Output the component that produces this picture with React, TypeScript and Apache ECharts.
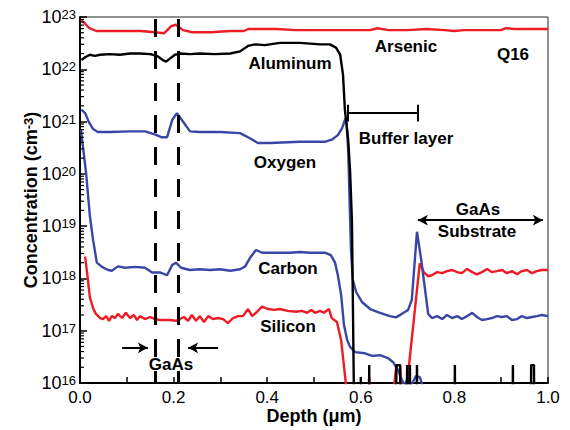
import React, { useEffect, useRef } from "react";
import * as echarts from "echarts";

// ---------- data (depth in µm, concentration in cm^-3) ----------
const arsenicDepth = [0.003, 0.01, 0.02, 0.035, 0.06, 0.1, 0.13, 0.16, 0.18, 0.195, 0.205, 0.22, 0.24, 0.28, 0.32, 0.35, 0.36, 0.38, 0.42, 0.46, 0.5, 0.54, 0.58, 0.62, 0.635, 0.66, 0.7, 0.74, 0.78, 0.8, 0.82, 0.86, 0.9, 0.91, 0.93, 0.96, 1.0];
const arsenicConc = [8.7e22, 7.6e22, 6.1e22, 5.4e22, 5.4e22, 5.4e22, 5.4e22, 5.1e22, 4.9e22, 6.7e22, 7.1e22, 5.6e22, 5.1e22, 5.1e22, 5.4e22, 5.4e22, 5.9e22, 5.9e22, 5.9e22, 5.6e22, 5.6e22, 5.6e22, 5.6e22, 5.6e22, 6.1e22, 5.6e22, 5.6e22, 5.9e22, 5.6e22, 5.4e22, 5.6e22, 5.6e22, 5.6e22, 6.1e22, 5.9e22, 5.9e22, 5.9e22];

const aluminumDepth = [0.003, 0.011, 0.021, 0.032, 0.043, 0.064, 0.085, 0.107, 0.128, 0.15, 0.165, 0.177, 0.184, 0.192, 0.203, 0.214, 0.235, 0.256, 0.288, 0.321, 0.342, 0.359, 0.374, 0.395, 0.427, 0.47, 0.513, 0.534, 0.547, 0.556, 0.562, 0.566, 0.573, 0.577, 0.581, 0.583, 0.585, 0.587,
  0.5985, 0.6, 0.6015, 0.6165, 0.618, 0.6195, 0.6745, 0.676, 0.684, 0.6855, 0.6975, 0.699, 0.7005, 0.7035, 0.705, 0.7065, 0.7185, 0.72, 0.7215, 0.7995, 0.801, 0.8025, 0.9235, 0.925, 0.9265, 0.9625, 0.964, 0.97, 0.9715, 1.0];
const aluminumConc = [1.5e22, 1.7e22, 1.9e22, 1.8e22, 1.9e22, 1.95e22, 1.9e22, 2.0e22, 2.0e22, 1.95e22, 1.8e22, 1.5e22, 1.4e22, 1.6e22, 1.9e22, 2.0e22, 1.95e22, 2.0e22, 1.95e22, 2.0e22, 2.2e22, 2.8e22, 3.0e22, 2.9e22, 3.2e22, 3.2e22, 3.0e22, 3.0e22, 2.6e22, 1.9e22, 7.8e21, 1.7e21, 4.5e20, 1.2e20, 1.3e19, 3.9e17, 1e16, 1e14,
  1e14, 1.3e16, 1e14, 1e14, 2.2e16, 1e14, 1e14, 2.2e16, 2.2e16, 1e14, 1e14, 2.2e16, 1e14, 1e14, 2.2e16, 1e14, 1e14, 2.2e16, 1e14, 1e14, 2.2e16, 1e14, 1e14, 2.2e16, 1e14, 1e14, 2.2e16, 2.2e16, 1e14, 1e14];

const oxygenDepth = [0.003, 0.011, 0.019, 0.028, 0.038, 0.064, 0.107, 0.139, 0.16, 0.175, 0.186, 0.197, 0.207, 0.22, 0.235, 0.256, 0.299, 0.342, 0.363, 0.38, 0.406, 0.47, 0.523, 0.538, 0.551, 0.56, 0.566, 0.569, 0.573, 0.576, 0.579, 0.583, 0.59, 0.603, 0.62, 0.641, 0.662, 0.675, 0.688, 0.701, 0.709, 0.72, 0.729, 0.744, 0.752, 0.763, 0.774, 0.784, 0.795, 0.806, 0.816, 0.827, 0.838, 0.848, 0.859, 0.87, 0.88, 0.891, 0.902, 0.912, 0.923, 0.934, 0.944, 0.955, 0.966, 0.976, 0.987, 1.0];
const oxygenConc = [1.7e21, 1.45e21, 9.8e20, 7.2e20, 6.3e20, 6.3e20, 6.5e20, 6.5e20, 5.7e20, 5.0e20, 5.0e20, 1.07e21, 1.45e21, 1.0e21, 6.5e20, 6.3e20, 6.3e20, 6.0e20, 4.8e20, 3.9e20, 3.9e20, 4.1e20, 4.1e20, 4.5e20, 5.5e20, 7.5e20, 1.07e21, 1.2e21, 2.9e20, 3.2e19, 3.5e18, 9.3e17, 5.5e17, 3.5e17, 2.6e17, 2.2e17, 1.9e17, 1.8e17, 2.1e17, 2.5e17, 3.9e17, 7.8e18, 2.3e18, 2.1e17, 1.75e17, 1.9e17, 1.67e17, 2.0e17, 1.75e17, 1.9e17, 1.67e17, 1.9e17, 2.2e17, 1.83e17, 1.6e17, 1.67e17, 1.75e17, 1.9e17, 1.83e17, 1.9e17, 1.6e17, 1.67e17, 1.9e17, 1.75e17, 1.83e17, 1.9e17, 2.0e17, 1.9e17];

const carbonDepth = [0.002, 0.013, 0.021, 0.028, 0.036, 0.047, 0.06, 0.068, 0.081, 0.096, 0.118, 0.139, 0.154, 0.171, 0.186, 0.197, 0.205, 0.216, 0.235, 0.256, 0.278, 0.299, 0.321, 0.342, 0.353, 0.363, 0.376, 0.389, 0.406, 0.449, 0.47, 0.491, 0.523, 0.536, 0.545, 0.551, 0.558, 0.564, 0.571, 0.577, 0.588, 0.609, 0.624, 0.641, 0.658, 0.669, 0.679, 0.688, 0.694, 0.701, 0.707, 0.718, 0.726, 0.735, 0.745];
const carbonConc = [6.9e20, 1.05e20, 1.6e19, 5.4e18, 2.0e18, 1.66e18, 1.45e18, 1.4e18, 1.7e18, 1.6e18, 1.66e18, 1.6e18, 1.3e18, 1.3e18, 1.15e18, 1.8e18, 2.0e18, 1.6e18, 1.45e18, 1.5e18, 1.45e18, 1.5e18, 1.4e18, 1.5e18, 1.7e18, 2.45e18, 3.5e18, 3.1e18, 3.1e18, 3.1e18, 3.2e18, 3.1e18, 3.1e18, 2.8e18, 2.0e18, 1.15e18, 4.8e17, 1.3e17, 6.6e16, 4.9e16, 3.9e16, 3.7e16, 3.3e16, 3.4e16, 3.0e16, 2.5e16, 1.8e16, 1.14e16, 8.8e15, 1.36e16, 8.8e15, 1.36e16, 1.3e16, 7.4e15, 1e15];

const siliconDepth = [0.011, 0.017, 0.021, 0.028, 0.034, 0.043, 0.049, 0.056, 0.062, 0.068, 0.075, 0.081, 0.09, 0.098, 0.107, 0.115, 0.122, 0.128, 0.139, 0.15, 0.16, 0.171, 0.192, 0.205, 0.214, 0.222, 0.231, 0.239, 0.248, 0.256, 0.265, 0.274, 0.284, 0.295, 0.306, 0.316, 0.327, 0.338, 0.348, 0.359, 0.368, 0.378, 0.389, 0.402, 0.415, 0.427, 0.444, 0.462, 0.474, 0.485, 0.494, 0.502, 0.513, 0.521, 0.532, 0.538, 0.549, 0.558, 0.568, 0.572,
  0.612, 0.618, 0.622, 0.66, 0.676, 0.684, 0.69, 0.699, 0.726, 0.735, 0.744, 0.752, 0.763, 0.774, 0.784, 0.795, 0.806, 0.816, 0.827, 0.838, 0.848, 0.859, 0.87, 0.88, 0.891, 0.902, 0.912, 0.923, 0.934, 0.944, 0.955, 0.966, 0.976, 0.987, 1.0];
const siliconConc = [2.6e18, 9.3e17, 4.4e17, 2.7e17, 2.1e17, 1.74e17, 1.67e17, 1.9e17, 1.55e17, 1.9e17, 1.75e17, 2.1e17, 1.75e17, 2.2e17, 1.75e17, 2.0e17, 1.6e17, 1.9e17, 1.67e17, 1.83e17, 1.67e17, 1.6e17, 1.6e17, 1.55e17, 1.67e17, 1.83e17, 1.55e17, 2.0e17, 1.55e17, 1.9e17, 1.47e17, 1.9e17, 1.67e17, 1.75e17, 1.67e17, 1.4e17, 1.75e17, 1.9e17, 1.9e17, 2.6e17, 1.9e17, 2.3e17, 2.9e17, 2.6e17, 2.5e17, 2.6e17, 2.4e17, 2.3e17, 2.4e17, 2.2e17, 2.5e17, 2.2e17, 2.4e17, 2.2e17, 2.6e17, 1.74e17, 1.47e17, 6.6e16, 1e16, 1e14,
  1e15, 1.3e16, 1e15, 1e15, 2.2e16, 2.2e16, 1e15, 1e16, 1.95e18, 1.3e18, 1.1e18, 1.15e18, 1.32e18, 1.26e18, 1.38e18, 1.45e18, 1.32e18, 1.26e18, 1.52e18, 1.32e18, 1.2e18, 1.32e18, 1.52e18, 1.32e18, 1.38e18, 1.45e18, 1.26e18, 1.38e18, 1.2e18, 1.38e18, 1.45e18, 1.26e18, 1.38e18, 1.45e18, 1.45e18];

// annotation anchors (data space)
const gaasLayerBounds = [0.164, 0.214];
const gaasArrowLeft = [0.09, 0.145];
const gaasArrowRight = [0.295, 0.231];
const gaasArrowLevel = 4.7e16;
const bufferBounds = [0.573, 0.722];
const bufferLevel = 1.5e21;
const bufferCap = [2.1e21, 1.0e21];
const substrateBounds = [0.722, 0.989];
const substrateLevel = 1.3e19;
const minorTickMantissas = [2, 3, 4, 5, 6, 7, 8, 9];
const decadeExponents = [16, 17, 18, 19, 20, 21, 22];

const FONT = 'Arial, "Liberation Sans", Helvetica, sans-serif';
const RED = "#ed1c24";
const BLUE = "#3a46a6";

export default function App() {
  const ref = useRef<HTMLDivElement>(null);
  useEffect(() => {
    const chart = echarts.init(ref.current!, null, { renderer: "svg" });
    const zip = (xs: number[], ys: number[]) => xs.map((x, i) => [x, ys[i]]);

    const lineSeries = (name: string, xs: number[], ys: number[], color: string, z: number, extra: any = {}) => ({
      type: "line", name, data: zip(xs, ys), symbol: "none", showSymbol: false, clip: true, z, silent: true,
      lineStyle: { color, width: 2.4 }, itemStyle: { color }, ...extra,
    });

    const dashStyle = { color: "#000", width: 3, type: [18, 14], dashOffset: 6 };
    const labelText = (text: string, x: number, y: number) => ({
      type: "text", x, y, z: 100, silent: true,
      style: { text, fill: "#000", font: `bold 17px ${FONT}`, align: "center", verticalAlign: "middle", textAlign: "center", textVerticalAlign: "middle" },
    });

    const labels = [
      labelText("Arsenic", 406, 46),
      labelText("Q16", 513, 54),
      labelText("Aluminum", 290, 63),
      labelText("Buffer layer", 406, 138),
      labelText("Oxygen", 285, 162),
      labelText("GaAs", 478, 209),
      labelText("Substrate", 477, 231),
      labelText("Carbon", 288, 268),
      labelText("Silicon", 288, 326),
      labelText("GaAs", 171, 364),
    ];

    const option: any = {
      animation: false,
      backgroundColor: "#fff",
      grid: { left: 80, right: 22, top: 17, bottom: 47, show: true, borderColor: "#222", borderWidth: 1, backgroundColor: "transparent", containLabel: false, outerBoundsMode: "none" },
      xAxis: {
        type: "value", min: 0, max: 1, interval: 0.2,
        name: "Depth (μm)", nameLocation: "middle", nameGap: 24, nameMoveOverlap: false,
        nameTextStyle: { fontFamily: FONT, fontSize: 18, fontWeight: "bold", color: "#000" },
        axisLine: { show: true, onZero: false, lineStyle: { color: "#000", width: 2 } },
        axisTick: { show: true, inside: true, length: 6, lineStyle: { color: "#000", width: 1.5 } },
        minorTick: { show: true, splitNumber: 2, length: 6, lineStyle: { color: "#000", width: 1.5 } },
        axisLabel: { formatter: (v: number) => v.toFixed(1), fontFamily: FONT, fontSize: 17, color: "#000", margin: 6 },
        splitLine: { show: false }, minorSplitLine: { show: false },
      },
      yAxis: {
        type: "log", logBase: 10, min: 1e16, max: 1e23, splitNumber: 7,
        name: "{m|Concentration (cm}{s|-3}{m|)}", nameLocation: "middle", nameGap: 40, nameMoveOverlap: false,
        nameTextStyle: {
          fontFamily: FONT, fontSize: 18, fontWeight: "bold", color: "#000",
          rich: {
            m: { fontFamily: FONT, fontSize: 18, fontWeight: "bold", color: "#000", lineHeight: 18, padding: [7, 0, 0, 0], verticalAlign: "bottom" },
            s: { fontFamily: FONT, fontSize: 13, fontWeight: "bold", color: "#000", lineHeight: 13, verticalAlign: "top" },
          },
        },
        axisLine: { show: true, lineStyle: { color: "#000", width: 2 } },
        axisTick: { show: true, inside: true, length: 7, lineStyle: { color: "#000", width: 1.5 } },
        minorTick: { show: false },
        axisLabel: {
          margin: 4, color: "#000",
          formatter: (v: number) => `{b|10}{s|${Math.round(Math.log10(v))}}`,
          rich: {
            b: { fontFamily: FONT, fontSize: 18, color: "#000", lineHeight: 18, padding: [7, 0, 7, 0] },
            s: { fontFamily: FONT, fontSize: 13, color: "#000", lineHeight: 13, verticalAlign: "top" },
          },
        },
        splitLine: { show: false }, minorSplitLine: { show: false },
      },
      series: [
        lineSeries("Arsenic", arsenicDepth, arsenicConc, RED, 2, {
          markLine: {
            silent: true, symbol: ["none", "none"], symbolSize: [8, 10], label: { show: false },
            emphasis: { disabled: true },
            lineStyle: { color: "#000", width: 2, type: "solid" },
            data: [
              { xAxis: gaasLayerBounds[0], lineStyle: dashStyle },
              { xAxis: gaasLayerBounds[1], lineStyle: dashStyle },
              [{ coord: [bufferBounds[0], bufferLevel] }, { coord: [bufferBounds[1], bufferLevel] }],
              [{ coord: [bufferBounds[0], bufferCap[0]] }, { coord: [bufferBounds[0], bufferCap[1]] }],
              [{ coord: [bufferBounds[1], bufferCap[0]] }, { coord: [bufferBounds[1], bufferCap[1]] }],
              [{ coord: [substrateBounds[0], substrateLevel], symbol: "arrow" }, { coord: [substrateBounds[1], substrateLevel], symbol: "arrow" }],
              [{ coord: [gaasArrowLeft[0], gaasArrowLevel] }, { coord: [gaasArrowLeft[1], gaasArrowLevel], symbol: "arrow" }],
              [{ coord: [gaasArrowRight[0], gaasArrowLevel] }, { coord: [gaasArrowRight[1], gaasArrowLevel], symbol: "arrow" }],
            ],
          },
        }),
        lineSeries("Silicon", siliconDepth, siliconConc, RED, 2),
        lineSeries("Carbon", carbonDepth, carbonConc, BLUE, 3),
        lineSeries("Oxygen", oxygenDepth, oxygenConc, BLUE, 3),
        lineSeries("Aluminum", aluminumDepth, aluminumConc, "#000", 4),
      ],
      graphic: labels,
    };
    chart.setOption(option);

    // log-scale minor ticks on the y axis, placed through the chart's own scales
    const tickEls: any[] = [];
    decadeExponents.forEach((e) =>
      minorTickMantissas.forEach((m) => {
        const p = chart.convertToPixel({ gridIndex: 0 }, [0, m * Math.pow(10, e)]) as any;
        if (p) tickEls.push({ type: "line", silent: true, z: 50, shape: { x1: p[0], y1: p[1], x2: p[0] + 4, y2: p[1] }, style: { stroke: "#000", lineWidth: 1.2 } });
      })
    );
    chart.setOption({ graphic: [...labels, ...tickEls] });
    return () => chart.dispose();
  }, []);
  return <div ref={ref} style={{ position: "fixed", left: 0, top: 0, width: 570, height: 430 }} />;
}
